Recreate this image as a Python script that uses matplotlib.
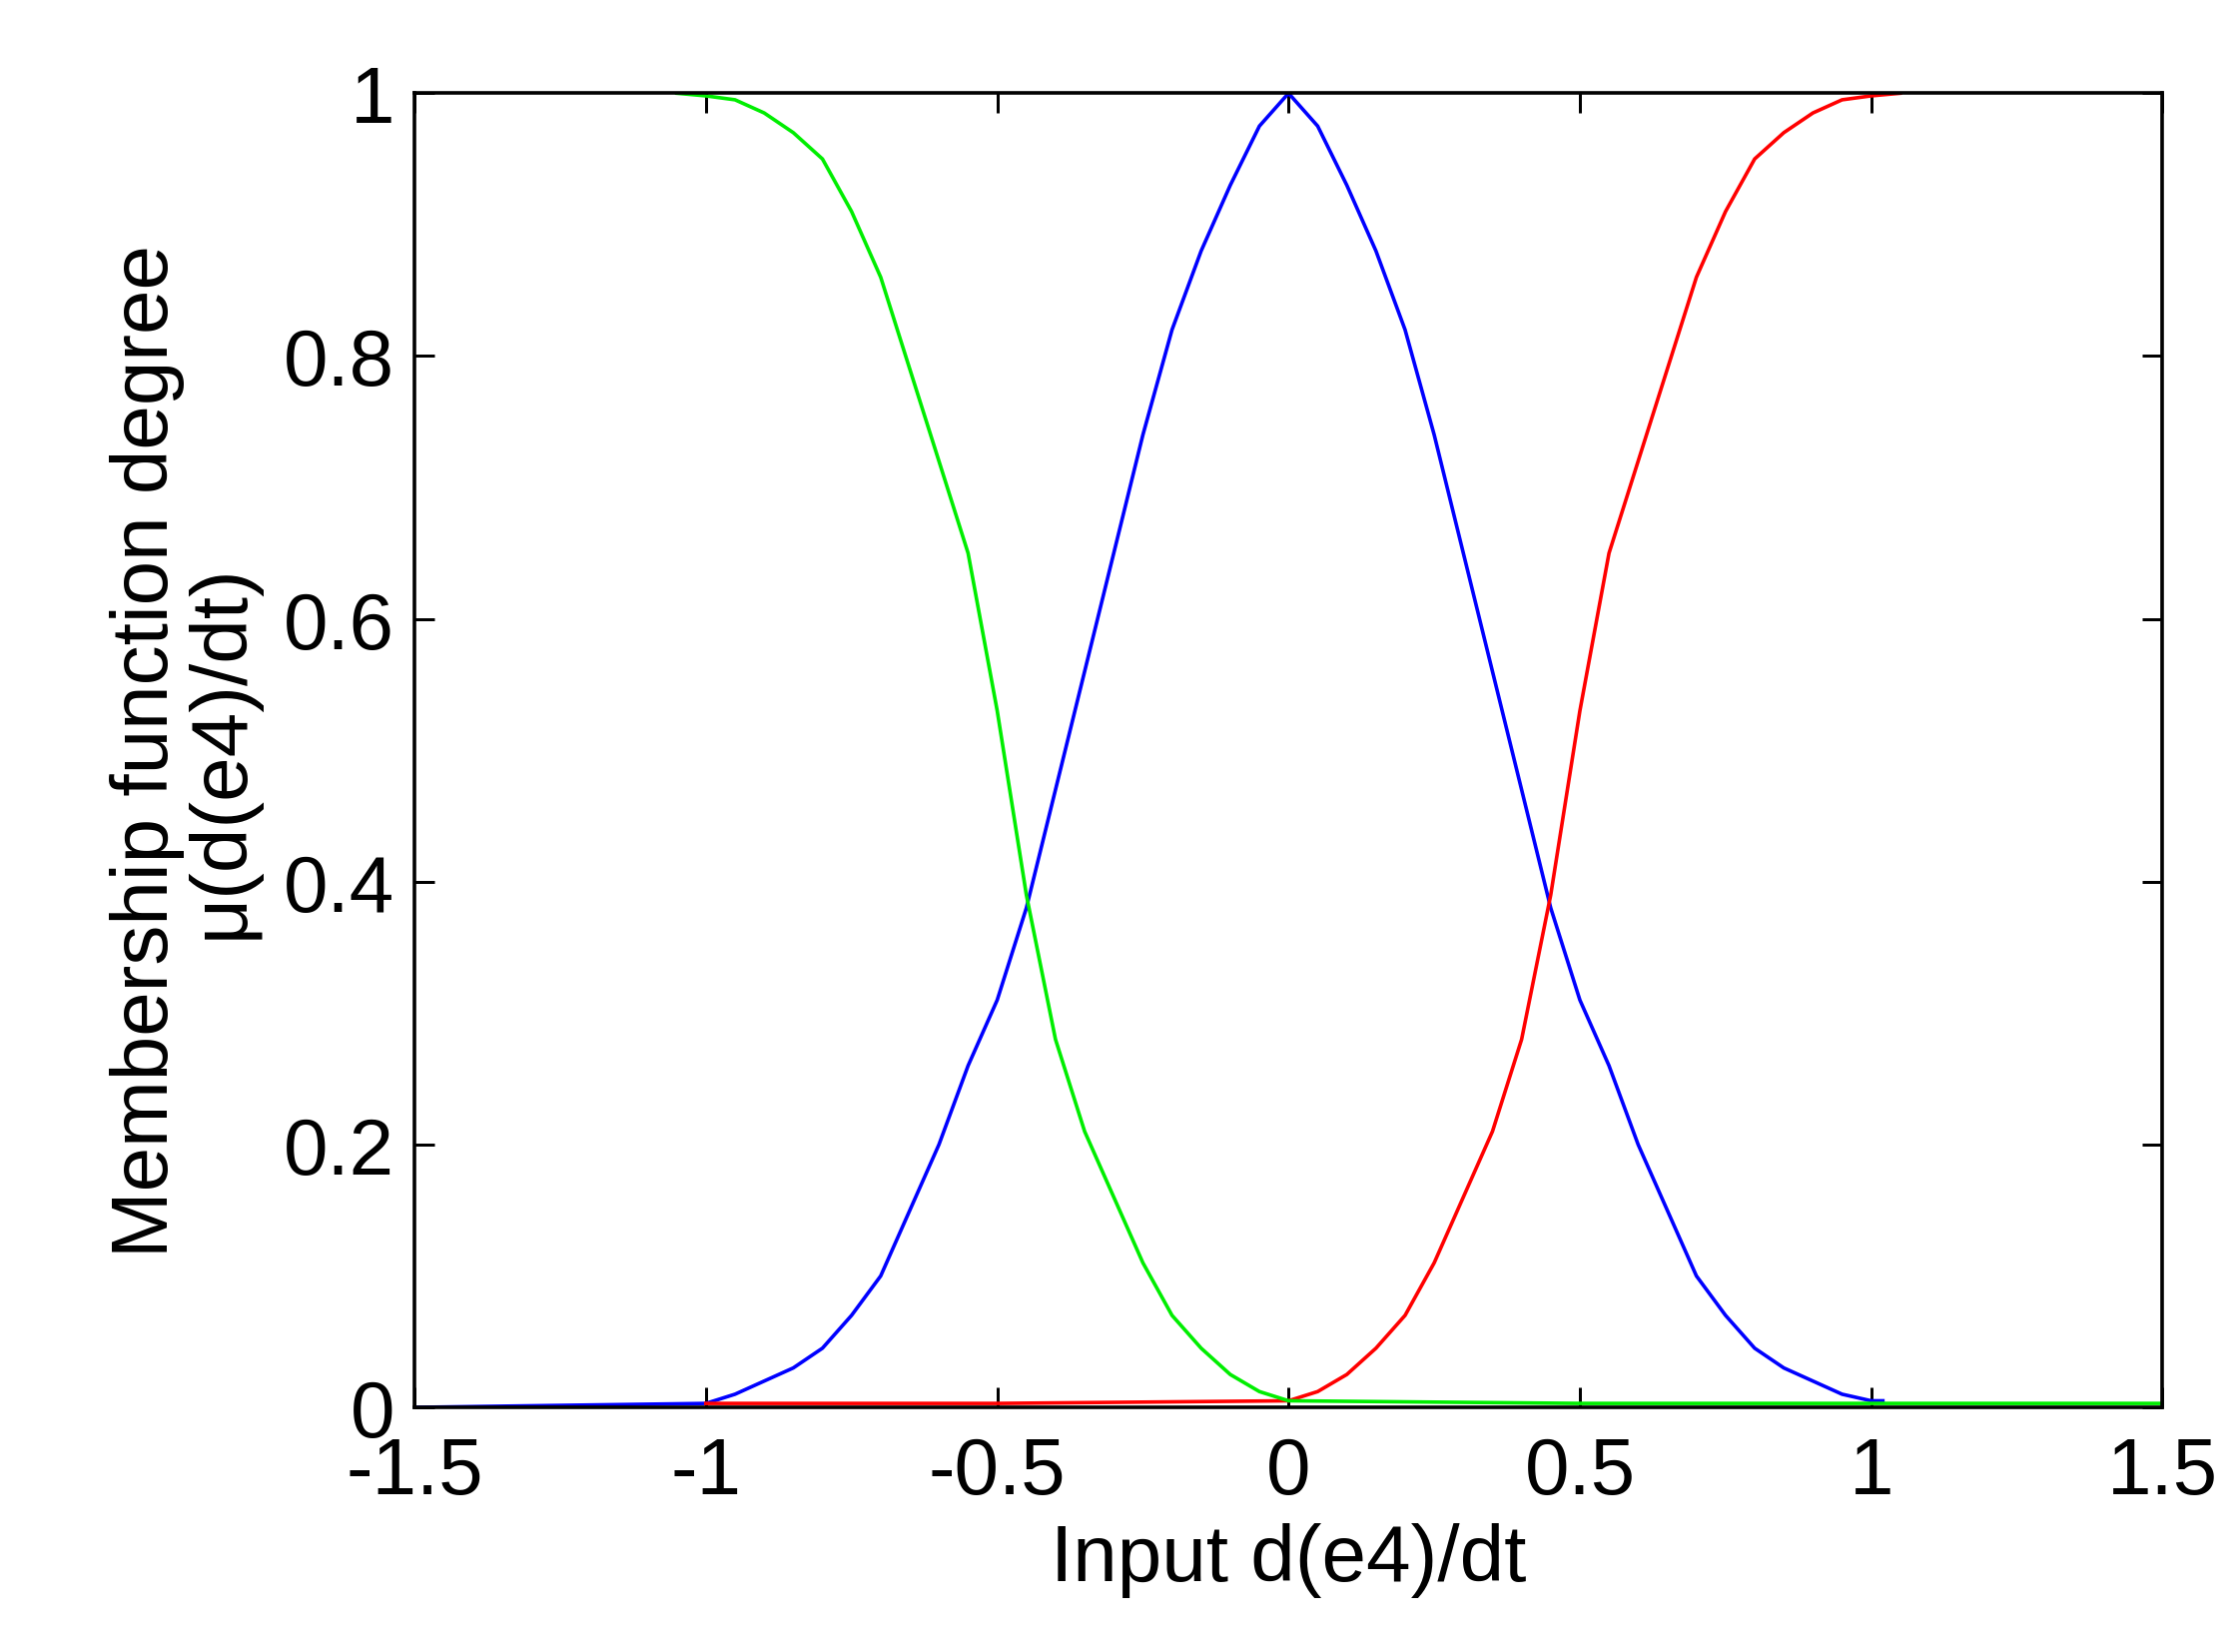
import matplotlib
matplotlib.use("Agg")
import matplotlib.pyplot as plt

# membership curves
x_blue = [-1.5, -1.0, -0.95, -0.9, -0.85, -0.8, -0.75, -0.7, -0.65, -0.6, -0.55,
          -0.5, -0.45, -0.4, -0.35, -0.3, -0.25, -0.2, -0.15, -0.1, -0.05, 0.0,
          0.05, 0.1, 0.15, 0.2, 0.25, 0.3, 0.35, 0.4, 0.45, 0.5, 0.55, 0.6,
          0.65, 0.7, 0.75, 0.8, 0.85, 0.9, 0.95, 1.0, 1.02]
y_blue = [0.0, 0.003, 0.01, 0.02, 0.03, 0.045, 0.07, 0.1, 0.15, 0.2, 0.26,
          0.31, 0.38, 0.47, 0.56, 0.65, 0.74, 0.82, 0.88, 0.93, 0.975, 1.0,
          0.975, 0.93, 0.88, 0.82, 0.74, 0.65, 0.56, 0.47, 0.38, 0.31, 0.26, 0.2,
          0.15, 0.1, 0.07, 0.045, 0.03, 0.02, 0.01, 0.005, 0.005]

x_green = [-1.05, -1.0, -0.95, -0.9, -0.85, -0.8, -0.75, -0.7, -0.65, -0.6,
           -0.55, -0.5, -0.45, -0.4, -0.35, -0.3, -0.25, -0.2, -0.15, -0.1,
           -0.05, 0.0, 0.5, 1.0, 1.5]
y_green = [1.0, 0.998, 0.995, 0.985, 0.97, 0.95, 0.91, 0.86, 0.79, 0.72,
           0.65, 0.53, 0.39, 0.28, 0.21, 0.16, 0.11, 0.07, 0.045, 0.025,
           0.012, 0.005, 0.003, 0.003, 0.003]

x_red = [-1.0, -0.5, 0.0, 0.05, 0.1, 0.15, 0.2, 0.25, 0.3, 0.35, 0.4, 0.45,
         0.5, 0.55, 0.6, 0.65, 0.7, 0.75, 0.8, 0.85, 0.9, 0.95, 1.0, 1.05]
y_red = [0.003, 0.003, 0.005, 0.012, 0.025, 0.045, 0.07, 0.11, 0.16, 0.21, 0.28, 0.39,
         0.53, 0.65, 0.72, 0.79, 0.86, 0.91, 0.95, 0.97, 0.985, 0.995, 0.998, 1.0]

x_ticks = [-1.5, -1, -0.5, 0, 0.5, 1, 1.5]
x_labels = ["-1.5", "-1", "-0.5", "0", "0.5", "1", "1.5"]
y_ticks = [0, 0.2, 0.4, 0.6, 0.8, 1]
y_labels = ["0", "0.2", "0.4", "0.6", "0.8", "1"]

plt.rcParams["font.family"] = ["Liberation Sans", "DejaVu Sans"]

fig = plt.figure(figsize=(15.583, 11.493), dpi=144)
ax = fig.add_axes([0.185, 0.148, 0.78, 0.795])

ax.plot(x_blue, y_blue, color="#0000ff", lw=1.8)
ax.plot(x_red, y_red, color="#ff0000", lw=1.8)
ax.plot(x_green, y_green, color="#00ee00", lw=1.8)

ax.set_xlim(-1.5, 1.5)
ax.set_ylim(0, 1)
ax.set_xticks(x_ticks)
ax.set_xticklabels(x_labels)
ax.set_yticks(y_ticks)
ax.set_yticklabels(y_labels)
ax.tick_params(direction="in", top=True, right=True, length=10, width=1.5,
               labelsize=40)
ax.tick_params(axis="x", pad=14)
ax.tick_params(axis="y", pad=10)
for s in ax.spines.values():
    s.set_linewidth(1.8)

ax.set_xlabel("Input d(e4)/dt", fontsize=40, labelpad=6)
ax.set_ylabel("Membership function degree\nμ(d(e4)/dt)", fontsize=40,
              labelpad=12, linespacing=1.0)

fig.savefig("out.png", dpi=144, facecolor="white")
